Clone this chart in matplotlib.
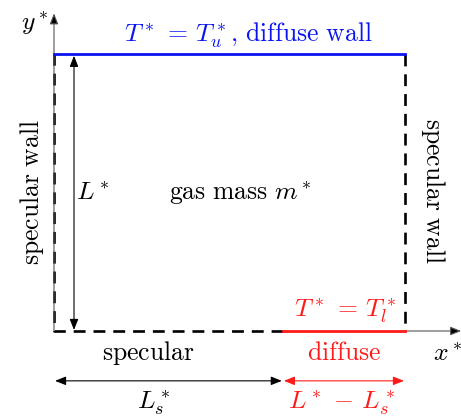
"""Sketch of the gas cavity with specular and diffuse walls."""

import matplotlib

matplotlib.use("Agg")

import matplotlib.pyplot as plt
from matplotlib.patches import FancyArrowPatch

plt.rcParams["mathtext.fontset"] = "cm"

BLUE = "#0A14F0"
RED = "#FF1A1A"
DARK = "black"

# Geometry of the cavity (wall length L = 1)
L = 1.0
H = 0.79
Ls = 0.652
axis_top = 0.905
axis_right = 1.16
L_arrow_x = 0.057
dim_y = -0.142


def arrow(ax, start, end, color, style="-|>", lw=0.8, line_color=None):
    ax.add_patch(
        FancyArrowPatch(
            start,
            end,
            arrowstyle=f"{style},head_length=0.5,head_width=0.2",
            mutation_scale=13,
            linewidth=lw,
            facecolor=color,
            edgecolor=line_color or color,
            shrinkA=0,
            shrinkB=0,
            zorder=3,
        )
    )


def main():
    fig = plt.figure(figsize=(4.61, 4.18), dpi=100)
    ax = fig.add_axes([0, 0, 1, 1])
    ax.set_xlim(-54 / 351, 407 / 351)
    ax.set_ylim(-87 / 351, 331 / 351)
    ax.axis("off")

    # axes
    arrow(ax, (0, 0), (0, axis_top), DARK, line_color="#555555")
    arrow(ax, (L, 0), (axis_right, 0), DARK, line_color="#555555")

    # walls
    dash = dict(color=DARK, linewidth=1.9, linestyle=(0, (4.5, 3)), zorder=2)
    ax.plot([Ls, 0, 0], [0, 0, H], **dash)
    ax.plot([L, L], [H, 0], **dash)
    ax.plot([0, L], [H, H], color=BLUE, linewidth=2.0, zorder=4)
    ax.plot([Ls, L], [0, 0], color=RED, linewidth=2.0, zorder=4)

    # L* dimension
    arrow(ax, (L_arrow_x, 0.003), (L_arrow_x, H - 0.006), DARK, style="<|-|>")

    # bottom dimensions
    arrow(ax, (0.003, dim_y), (Ls - 0.003, dim_y), DARK, style="<|-|>")
    arrow(ax, (Ls + 0.003, dim_y), (L - 0.003, dim_y), RED, style="<|-|>")

    fs = 18.5
    ax.text(-0.054, 0.877, r"$y^*$", fontsize=fs, ha="center", va="center")
    ax.text(0.553, 0.843, r"$T^*\,=\,T_u^*,\, \mathrm{diffuse\ wall}$",
            fontsize=fs, color=BLUE, ha="center", va="center")
    ax.text(-0.063, 0.395, r"$\mathrm{specular\ wall}$", fontsize=fs,
            rotation=90, ha="center", va="center")
    ax.text(1.08, 0.40, r"$\mathrm{specular\ wall}$", fontsize=fs,
            rotation=-90, ha="center", va="center")
    ax.text(0.111, 0.393, r"$L^*$", fontsize=fs, ha="center", va="center")
    ax.text(0.53, 0.393, r"$\mathrm{gas\ mass}\ m^*$", fontsize=fs,
            ha="center", va="center")
    ax.text(0.829, 0.057, r"$T^*\,=\,T_l^*$", fontsize=fs, color=RED,
            ha="center", va="center")
    ax.text(0.268, -0.063, r"$\mathrm{specular}$", fontsize=fs,
            ha="center", va="center")
    ax.text(0.826, -0.063, r"$\mathrm{diffuse}$", fontsize=fs, color=RED,
            ha="center", va="center")
    ax.text(1.12, -0.066, r"$x^*$", fontsize=fs, ha="center", va="center")
    ax.text(0.285, -0.203, r"$L_s^*$", fontsize=fs, ha="center", va="center")
    ax.text(0.82, -0.203, r"$L^*\,-\,L_s^*$", fontsize=fs, color=RED,
            ha="center", va="center")

    fig.savefig("out.png", dpi=100)
    plt.close(fig)


if __name__ == "__main__":
    main()
